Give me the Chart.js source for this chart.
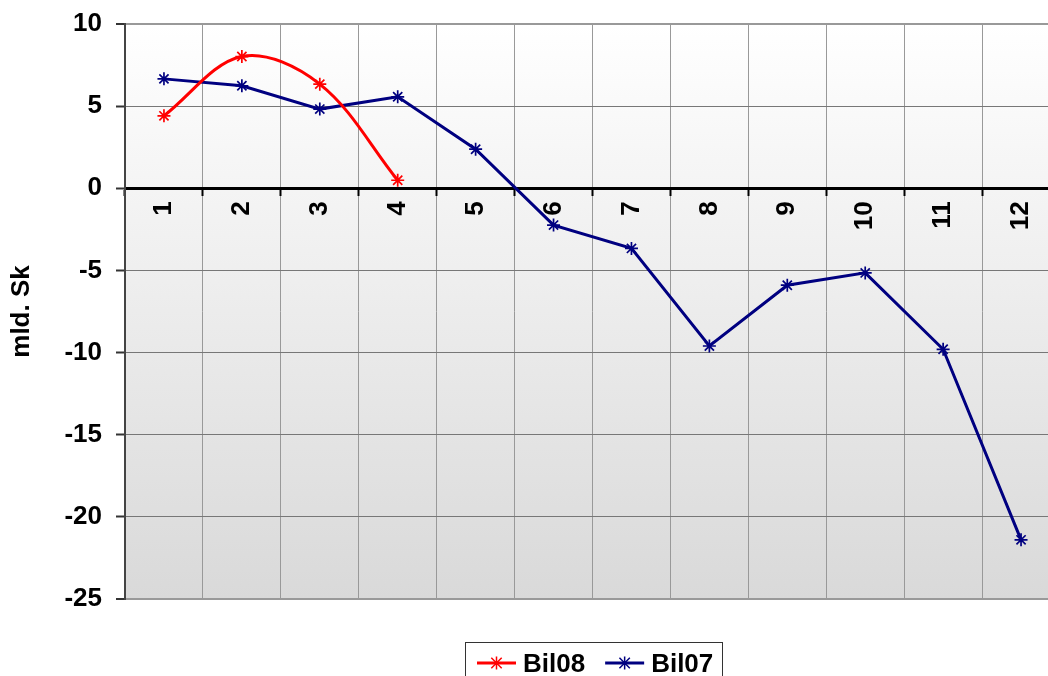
<!DOCTYPE html>
<html><head><meta charset="utf-8">
<script src="https://cdn.jsdelivr.net/npm/chart.js@4/dist/chart.umd.min.js"></script>
<style>html,body{margin:0;padding:0;background:#fff;overflow:hidden;width:1048px;height:676px}</style>
</head><body>
<canvas id="c" width="1070" height="676" style="display:block;width:1070px;height:676px"></canvas>
<script>
const categories = ['1','2','3','4','5','6','7','8','9','10','11','12'];
const bil08 = [4.41, 8.02, 6.34, 0.49];
const bil07 = [6.66, 6.24, 4.82, 5.57, 2.38, -2.24, -3.66, -9.6, -5.9, -5.15, -9.8, -21.4];
const yMin = -25, yMax = 10, yStep = 5;
const yTitle = 'mld. Sk';
const FONT = '"Liberation Sans", Arial, sans-serif';

function drawStar(ctx, x, y, r) {
  ctx.beginPath();
  ctx.moveTo(x, y - r); ctx.lineTo(x, y + r);
  ctx.moveTo(x - r, y); ctx.lineTo(x + r, y);
  const d = r * 0.8;
  ctx.moveTo(x - d, y - d); ctx.lineTo(x + d, y + d);
  ctx.moveTo(x - d, y + d); ctx.lineTo(x + d, y - d);
  ctx.stroke();
}

const bgPlugin = {
  id: 'bg',
  beforeDraw(chart) {
    const {ctx, chartArea: a} = chart;
    const g = ctx.createLinearGradient(0, a.top, 0, a.bottom);
    g.addColorStop(0, '#ffffff');
    g.addColorStop(1, '#d9d9d9');
    ctx.save();
    ctx.fillStyle = g;
    ctx.fillRect(a.left, a.top, a.right - a.left, a.bottom - a.top);
    ctx.restore();
  }
};

const legendPlugin = {
  id: 'boxLegend',
  afterDraw(chart) {
    const ctx = chart.ctx, a = chart.chartArea;
    ctx.save();
    ctx.font = 'bold 26px ' + FONT;
    const items = chart.data.datasets.map(ds => ({ds, w: ctx.measureText(ds.label).width}));
    const padL = 12, lineLen = 39, gap = 7, itemGap = 20, padR = 9;
    const total = padL + padR + items.reduce((s, it) => s + lineLen + gap + it.w, 0) + itemGap * (items.length - 1);
    const cx = (a.left + a.right) / 2 + 1;
    const x0 = Math.round(cx - total / 2);
    const top = Math.round(a.bottom) + 43;
    const ly = top + 21, ty = top + 30;
    ctx.strokeStyle = '#333'; ctx.lineWidth = 1;
    ctx.strokeRect(x0 + 0.5, top + 0.5, Math.round(total), 60);
    let x = x0 + padL;
    items.forEach(it => {
      ctx.strokeStyle = it.ds.borderColor; ctx.lineWidth = 3;
      ctx.beginPath(); ctx.moveTo(x, ly); ctx.lineTo(x + lineLen, ly); ctx.stroke();
      ctx.lineWidth = 1.5;
      drawStar(ctx, x + lineLen / 2, ly, 6.5);
      ctx.fillStyle = '#000'; ctx.textBaseline = 'alphabetic'; ctx.textAlign = 'left';
      ctx.fillText(it.ds.label, x + lineLen + gap, ty);
      x += lineLen + gap + it.w + itemGap;
    });
    ctx.restore();
  }
};

new Chart(document.getElementById('c'), {
  type: 'line',
  data: {
    labels: categories,
    datasets: [
      { label: 'Bil08', data: bil08, borderColor: '#ff0000', backgroundColor: '#ff0000',
        borderWidth: 3, tension: 0.35, pointStyle: 'star', pointRadius: 6.5,
        pointBorderWidth: 1.7, pointBorderColor: '#ff0000', fill: false },
      { label: 'Bil07', data: bil07, borderColor: '#000080', backgroundColor: '#000080',
        borderWidth: 3, tension: 0, pointStyle: 'star', pointRadius: 6.5,
        pointBorderWidth: 1.7, pointBorderColor: '#000080', fill: false }
    ]
  },
  options: {
    responsive: false,
    animation: false,
    devicePixelRatio: 1,
    layout: { padding: { left: 0, top: 24, right: 10, bottom: 77 } },
    plugins: { legend: { display: false }, tooltip: { enabled: false } },
    scales: {
      x: {
        type: 'category',
        position: { y: 0 },
        offset: true,
        afterFit(scale) { scale.height = 1; },
        grid: { color: '#999', lineWidth: 1, offset: true, drawTicks: true,
                tickLength: 6, tickColor: '#000', tickWidth: 2 },
        border: { color: '#000', width: 3 },
        ticks: { color: '#000', font: { family: FONT, size: 26, weight: 'bold' },
                 minRotation: 90, maxRotation: 90, autoSkip: false, padding: 7 }
      },
      y: {
        min: yMin, max: yMax,
        afterFit(scale) { scale.width = 125; scale.paddingTop = 0; scale.paddingBottom = 0; },
        grid: {
          color: c => (c.tick && (c.tick.value === yMax || c.tick.value === yMin)) ? '#999' : '#777',
          lineWidth: c => (c.tick && (c.tick.value === yMax || c.tick.value === yMin)) ? 2 : 1,
          tickLength: 9, tickColor: '#333', tickWidth: 2
        },
        border: { color: '#444', width: 2 },
        ticks: { stepSize: yStep, color: '#000', padding: 14,
                 font: { family: FONT, size: 26, weight: 'bold' } },
        title: { display: true, text: yTitle, color: '#000', padding: { top: 6, bottom: 0 },
                 font: { family: FONT, size: 26, weight: 'bold' } }
      }
    }
  },
  plugins: [bgPlugin, legendPlugin]
});
</script>
</body></html>
